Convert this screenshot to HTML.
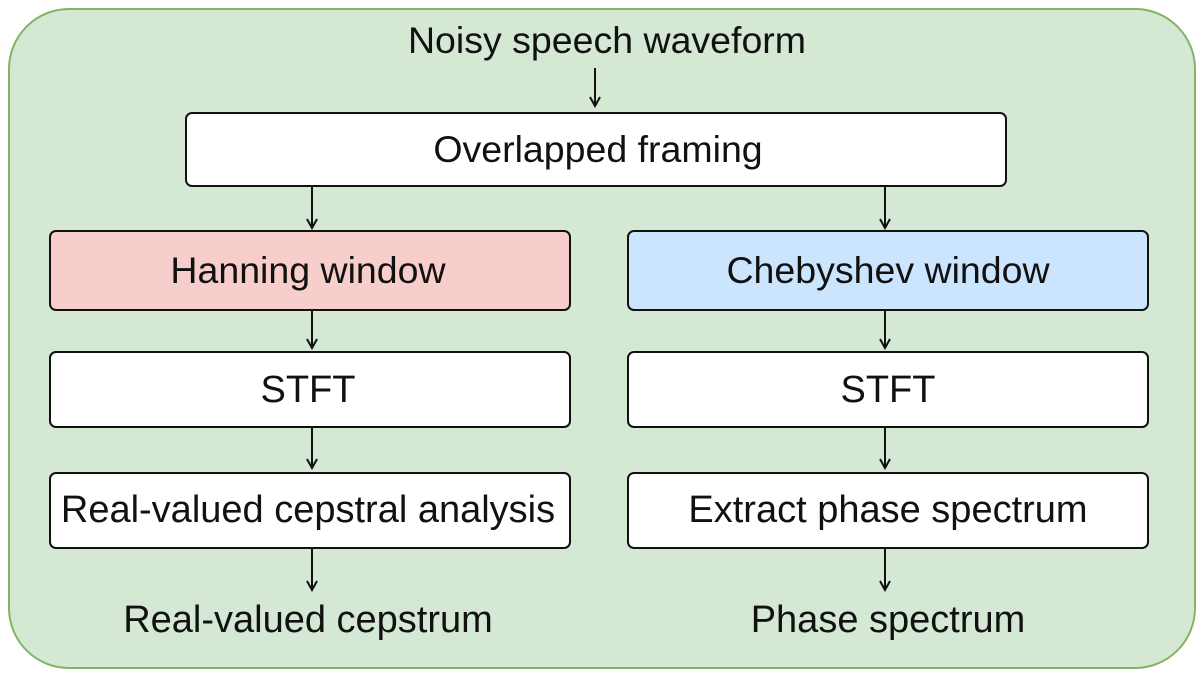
<!DOCTYPE html>
<html><head><meta charset="utf-8"><style>
body{margin:0;width:1204px;height:686px;background:#fff;overflow:hidden}
svg text{font-family:"Liberation Sans",sans-serif;fill:#111}
</style></head><body>
<svg width="1204" height="686" viewBox="0 0 1204 686">
<defs><marker id="a" markerWidth="12" markerHeight="12" refX="10" refY="6" orient="auto" markerUnits="userSpaceOnUse">
<path d="M1,1 L10,6 L1,11" fill="none" stroke="#111" stroke-width="2"/></marker></defs>
<rect x="9" y="9" width="1186" height="659" rx="60" fill="#d5e8d4" stroke="#82b366" stroke-width="2"/>
<text x="607" y="53" font-size="37.5" text-anchor="middle">Noisy speech waveform</text>
<g stroke="#111" stroke-width="2" fill="none">
<line x1="595" y1="68" x2="595" y2="106" marker-end="url(#a)"/>
<line x1="312" y1="186" x2="312" y2="228" marker-end="url(#a)"/>
<line x1="885" y1="186" x2="885" y2="228" marker-end="url(#a)"/>
<line x1="312" y1="310" x2="312" y2="348" marker-end="url(#a)"/>
<line x1="885" y1="310" x2="885" y2="348" marker-end="url(#a)"/>
<line x1="312" y1="427" x2="312" y2="468" marker-end="url(#a)"/>
<line x1="885" y1="427" x2="885" y2="468" marker-end="url(#a)"/>
<line x1="312" y1="548" x2="312" y2="590" marker-end="url(#a)"/>
<line x1="885" y1="548" x2="885" y2="590" marker-end="url(#a)"/>
</g>
<g stroke="#111" stroke-width="2">
<rect x="186" y="113" width="820" height="73" rx="6" fill="#fff"/>
<rect x="50" y="231" width="520" height="79" rx="6" fill="#f8cecc"/>
<rect x="628" y="231" width="520" height="79" rx="6" fill="#cce5ff"/>
<rect x="50" y="352" width="520" height="75" rx="6" fill="#fff"/>
<rect x="628" y="352" width="520" height="75" rx="6" fill="#fff"/>
<rect x="50" y="473" width="520" height="75" rx="6" fill="#fff"/>
<rect x="628" y="473" width="520" height="75" rx="6" fill="#fff"/>
</g>
<g font-size="38" text-anchor="middle">
<text x="308" y="283" font-size="37.5">Hanning window</text>
<text x="598" y="162" font-size="37.5">Overlapped framing</text>
<text x="888" y="283" font-size="37.5">Chebyshev window</text>
<text x="308" y="402">STFT</text>
<text x="888" y="402">STFT</text>
<text x="308" y="522">Real-valued cepstral analysis</text>
<text x="888" y="522">Extract phase spectrum</text>
<text x="308" y="632">Real-valued cepstrum</text>
<text x="888" y="632">Phase spectrum</text>
</g>
</svg>
</body></html>
